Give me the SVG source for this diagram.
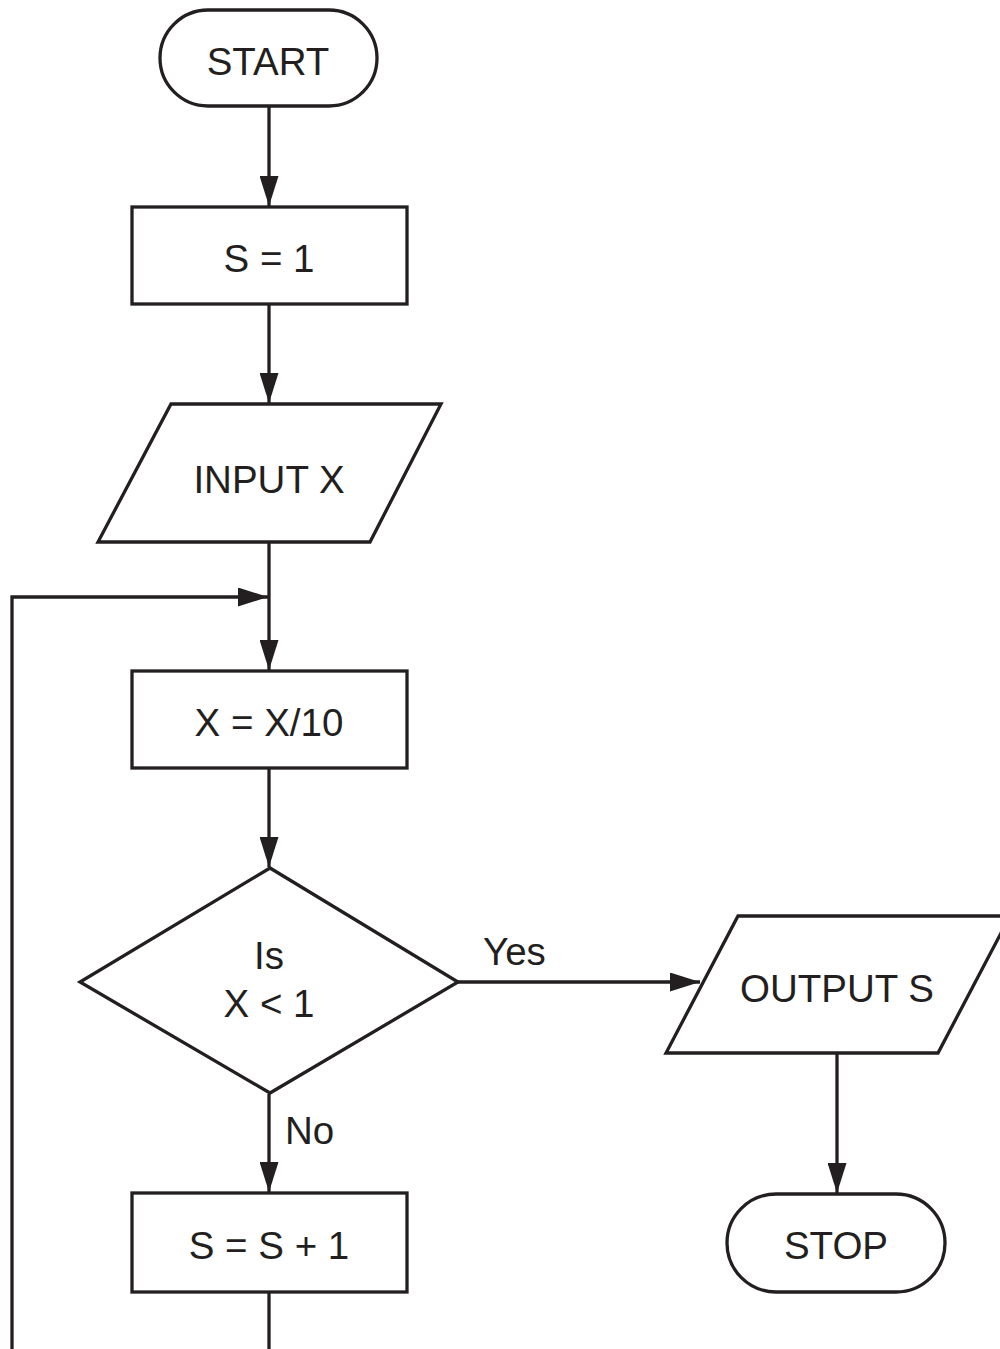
<svg xmlns="http://www.w3.org/2000/svg" width="1000" height="1349" viewBox="0 0 1000 1349">
<defs>
<style>
.s{fill:#fff;stroke:#231f20;stroke-width:3.3}
.c{fill:none;stroke:#231f20;stroke-width:3.3}
text{font-family:"Liberation Sans",Arial,sans-serif;font-size:38.5px;fill:#231f20}
.m{text-anchor:middle}
</style>
<marker id="a" markerUnits="userSpaceOnUse" viewBox="0 0 30 19" refX="30" refY="9.5" markerWidth="30" markerHeight="19" orient="auto">
<path d="M0,0 L30,9.5 L0,19 Z" fill="#231f20"/>
</marker>
</defs>
<rect width="1000" height="1349" fill="#fff"/>
<g id="connectors">
<line class="c" x1="269" y1="106" x2="269" y2="206" marker-end="url(#a)"/>
<line class="c" x1="269" y1="304" x2="269" y2="403" marker-end="url(#a)"/>
<line class="c" x1="269" y1="542" x2="269" y2="670" marker-end="url(#a)"/>
<polyline class="c" points="12,1349 12,597 268,597" marker-end="url(#a)"/>
<line class="c" x1="269" y1="768" x2="269" y2="867" marker-end="url(#a)"/>
<line class="c" x1="458" y1="982" x2="700" y2="982" marker-end="url(#a)"/>
<line class="c" x1="269" y1="1094" x2="269" y2="1192" marker-end="url(#a)"/>
<line class="c" x1="837" y1="1053" x2="837" y2="1193" marker-end="url(#a)"/>
<line class="c" x1="269" y1="1292" x2="269" y2="1349"/>
<text x="483" y="965">Yes</text>
<text x="285" y="1144">No</text>
</g>
<g id="start">
<rect class="s" x="160" y="10" width="217" height="96" rx="48"/>
<text class="m" x="268" y="75">START</text>
</g>
<g id="s1">
<rect class="s" x="132" y="207" width="275" height="97"/>
<text class="m" x="269" y="272">S = 1</text>
</g>
<g id="input">
<polygon class="s" points="171,404 441,404 370,542 98,542"/>
<text class="m" x="269" y="493">INPUT X</text>
</g>
<g id="div">
<rect class="s" x="132" y="671" width="275" height="97"/>
<text class="m" x="269" y="736">X = X/10</text>
</g>
<g id="decision">
<polygon class="s" points="270,868 458,982 270,1093 80,982"/>
<text class="m" x="269" y="969">Is</text>
<text class="m" x="269" y="1017">X &lt; 1</text>
</g>
<g id="inc">
<rect class="s" x="132" y="1193" width="275" height="99"/>
<text class="m" x="269" y="1259">S = S + 1</text>
</g>
<g id="output">
<polygon class="s" points="738,916 1010,916 938,1053 666,1053"/>
<text class="m" x="837" y="1002">OUTPUT S</text>
</g>
<g id="stop">
<rect class="s" x="727" y="1194" width="218" height="98" rx="49"/>
<text class="m" x="836" y="1259">STOP</text>
</g>
</svg>
